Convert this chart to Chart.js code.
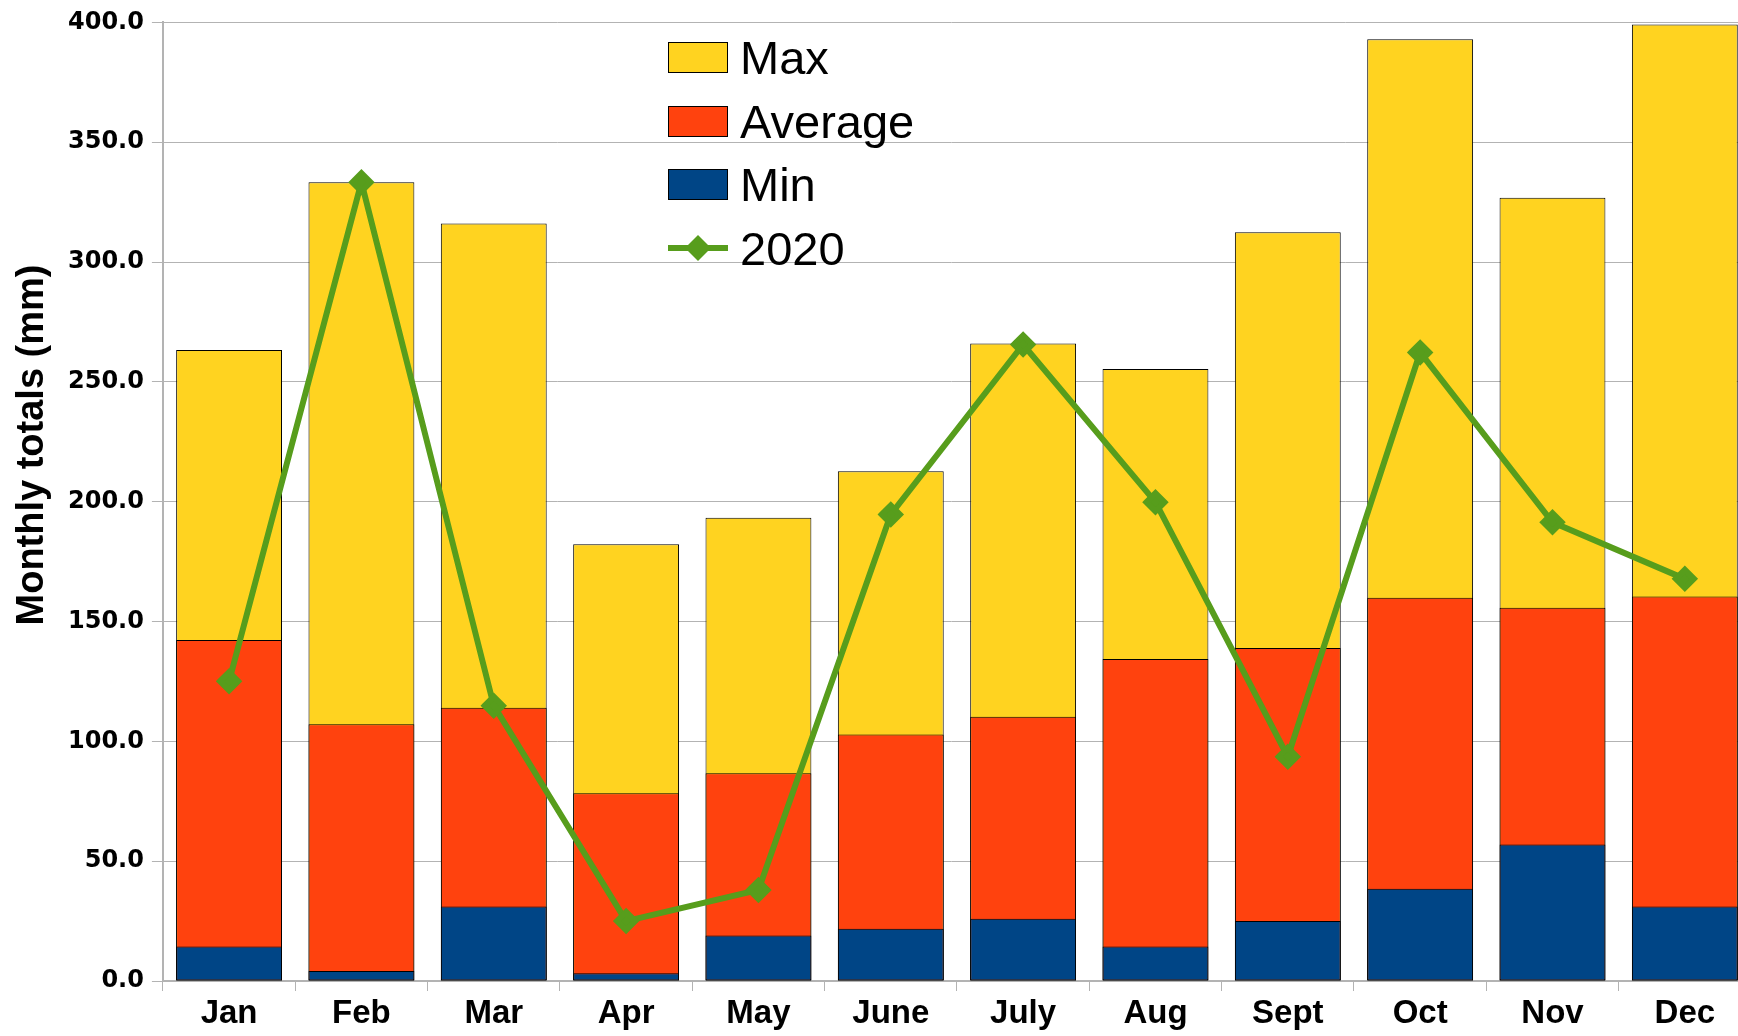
<!DOCTYPE html>
<html>
<head>
<meta charset="utf-8">
<script src="https://cdn.jsdelivr.net/npm/chart.js@4"></script>
<style>
  body { margin: 0; background: #fff; overflow: hidden; }
  #wrap { position: relative; width: 1738px; height: 1036px; overflow: hidden; }
  #legend { position: absolute; left: 668px; top: 26px; font-family: "Liberation Sans", Arial, sans-serif; font-size: 47px; color: #000; }
  #legend .row { display: flex; align-items: center; height: 63.5px; }
  #legend .sw { width: 60px; height: 31px; box-sizing: border-box; border: 1px solid #000; margin-right: 12px; }
  #legend svg { margin-right: 12px; }
</style>
</head>
<body>
<div id="wrap">
  <canvas id="rainChart" width="1738" height="1036"></canvas>
  <div id="legend"></div>
</div>
<script>
const months = ['Jan', 'Feb', 'Mar', 'Apr', 'May', 'June', 'July', 'Aug', 'Sept', 'Oct', 'Nov', 'Dec'];
const maxRain = [263.3, 333.3, 316.1, 182.2, 193.3, 212.7, 266.0, 255.4, 312.4, 393.0, 326.8, 399.1];
const avgRain = [142.3, 107.1, 114.0, 78.3, 86.7, 102.9, 110.3, 134.4, 139.0, 159.9, 155.7, 160.4];
const minRain = [14.4, 4.2, 31.1, 3.2, 19.0, 21.8, 26.0, 14.4, 25.0, 38.5, 57.0, 31.1];
const rain2020 = [125.1, 333.3, 114.9, 25.0, 38.0, 194.7, 265.6, 199.8, 93.6, 262.3, 191.4, 167.8];
const yTitle = 'Monthly totals (mm)';

const gridGrey = '#b3b3b3';
const plotRight = 1751; // the original plot is cut off by the image's right edge

// y axis title sits above the middle of the axis in the original, so draw it by hand
const yTitlePlugin = {
    id: 'yTitle',
    afterDraw(chart) {
        const c = chart.ctx;
        c.save();
        c.translate(33, 445);
        c.rotate(-Math.PI / 2);
        c.font = 'bold 38px "Liberation Sans", Arial, sans-serif';
        c.fillStyle = '#000';
        c.textAlign = 'center';
        c.textBaseline = 'middle';
        c.fillText(yTitle, 0, 0);
        c.restore();
    }
};

// stretch the plot area past the canvas edge, like the cropped original
const overflowPlugin = {
    id: 'overflowRight',
    afterLayout(chart) {
        const extra = plotRight - chart.chartArea.right;
        if (extra <= 0) return;
        chart.chartArea.right += extra;
        chart.chartArea.width += extra;
        const x = chart.scales.x;
        x.right += extra;
        x.width += extra;
        x.configure();
        const y = chart.scales.y;
        y.configure();
    }
};

const ctx = document.getElementById('rainChart').getContext('2d');
const chart = new Chart(ctx, {
    type: 'bar',
    data: {
        labels: months,
        datasets: [
            {
                label: 'Max',
                data: maxRain,
                backgroundColor: '#ffd320',
                borderColor: '#000',
                borderWidth: 1,
                borderSkipped: false,
                categoryPercentage: 0.8,
                barPercentage: 1.0,
                order: 3
            },
            {
                label: 'Average',
                data: avgRain,
                backgroundColor: '#ff420e',
                borderColor: '#000',
                borderWidth: 1,
                borderSkipped: false,
                categoryPercentage: 0.8,
                barPercentage: 1.0,
                order: 2
            },
            {
                label: 'Min',
                data: minRain,
                backgroundColor: '#004586',
                borderColor: '#000',
                borderWidth: 1,
                borderSkipped: false,
                categoryPercentage: 0.8,
                barPercentage: 1.0,
                order: 1
            },
            {
                type: 'line',
                label: '2020',
                data: rain2020,
                borderColor: '#579d1c',
                backgroundColor: '#579d1c',
                borderWidth: 6,
                pointStyle: 'rectRot',
                pointRadius: 9,
                tension: 0,
                order: 0
            }
        ]
    },
    options: {
        responsive: false,
        animation: false,
        layout: { padding: { top: 11, left: 60, right: 0, bottom: 0 } },
        plugins: {
            legend: { display: false },
            tooltip: { enabled: false }
        },
        scales: {
            x: {
                stacked: true,
                offset: true,
                grid: { offset: true, drawOnChartArea: false, color: gridGrey, tickLength: 10 },
                border: { color: gridGrey, width: 2 },
                ticks: {
                    color: '#000',
                    padding: 6,
                    font: { family: '"Liberation Sans", Arial, sans-serif', size: 33, weight: 'bold', lineHeight: 1.0 }
                }
            },
            y: {
                stacked: false,
                min: 0,
                max: 400,
                grid: { color: gridGrey, tickLength: 11 },
                border: { color: gridGrey, width: 2 },
                ticks: {
                    stepSize: 50,
                    color: '#000',
                    padding: 8,
                    font: { family: '"DejaVu Sans", sans-serif', size: 24, weight: 'bold' },
                    callback: v => v.toFixed(1)
                }
            }
        }
    },
    plugins: [overflowPlugin, yTitlePlugin]
});

// legend laid over the chart area, built from the datasets
const legendEl = document.getElementById('legend');
['Max', 'Average', 'Min', '2020'].forEach(name => {
    const ds = chart.data.datasets.find(d => d.label === name);
    const row = document.createElement('div');
    row.className = 'row';
    if (ds.type === 'line') {
        row.innerHTML = '<svg width="60" height="30"><line x1="0" y1="15" x2="60" y2="15" stroke="' + ds.borderColor +
            '" stroke-width="6"/><polygon points="30,2 43,15 30,28 17,15" fill="' + ds.borderColor + '"/></svg>';
    } else {
        row.innerHTML = '<div class="sw" style="background:' + ds.backgroundColor + '"></div>';
    }
    const label = document.createElement('span');
    label.textContent = ds.label;
    row.appendChild(label);
    legendEl.appendChild(row);
});
</script>
</body>
</html>
